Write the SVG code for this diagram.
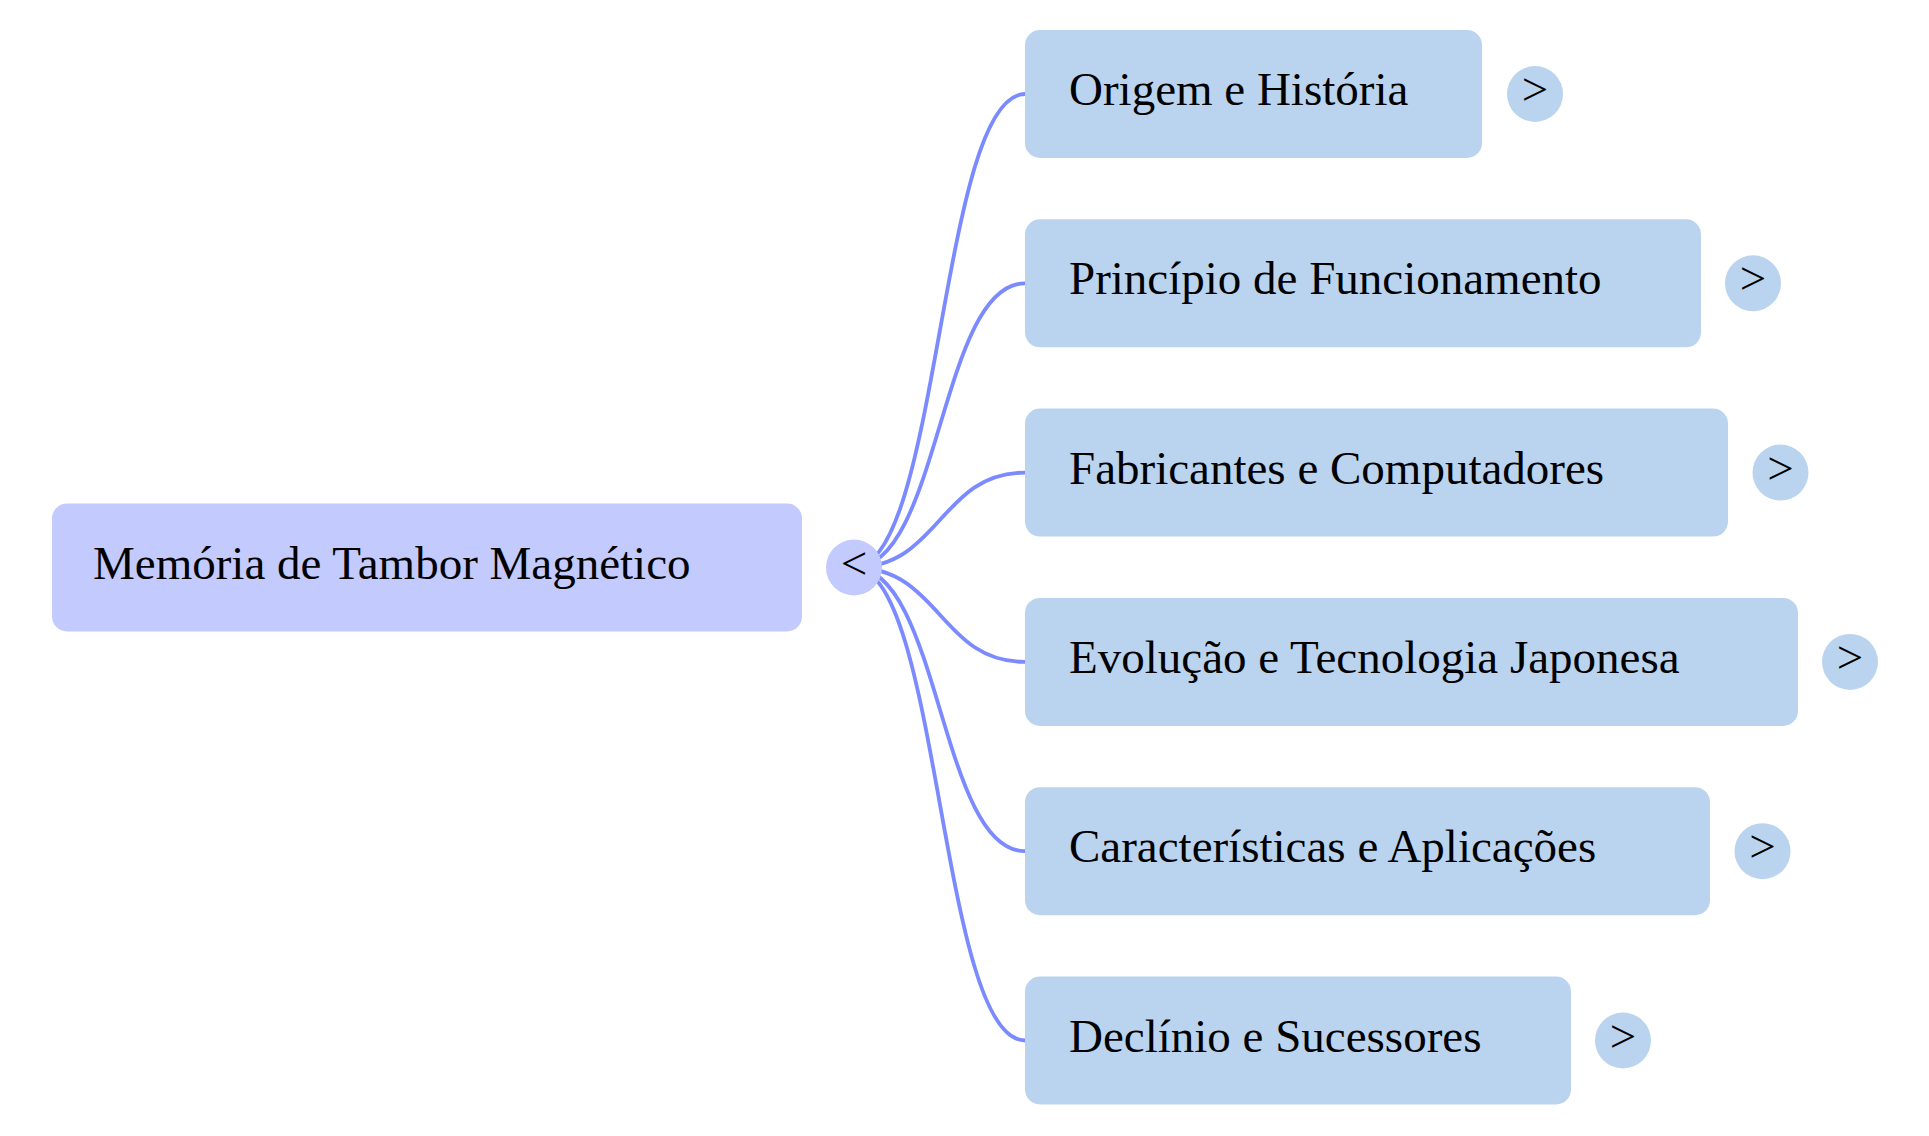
<svg xmlns="http://www.w3.org/2000/svg" width="1929" height="1136" viewBox="0 0 1929 1136">
<style>
.root{fill:#C3CAFE}
.child{fill:#BAD4EF}
.lbl{font-family:"Liberation Serif","Times New Roman",serif;font-size:47px;fill:#000}
.tog{font-family:"Liberation Serif","Times New Roman",serif;font-size:47px;fill:#000;text-anchor:middle}
.edge{fill:none;stroke:#7B8BFF;stroke-width:3.8}
</style>
<rect width="1929" height="1136" fill="#ffffff"/>
<g id="connectors">
<path class="edge" d="M854 567.5 C940 567.5 940 94 1025 94"/>
<path class="edge" d="M854 567.5 C940 567.5 940 283.3 1025 283.3"/>
<path class="edge" d="M854 567.5 C940 567.5 940 472.6 1025 472.6"/>
<path class="edge" d="M854 567.5 C940 567.5 940 661.9 1025 661.9"/>
<path class="edge" d="M854 567.5 C940 567.5 940 851.2 1025 851.2"/>
<path class="edge" d="M854 567.5 C940 567.5 940 1040.5 1025 1040.5"/>
</g>
<g id="root">
<rect class="root" x="52" y="503.5" width="750" height="128" rx="15"/>
<text class="lbl" x="93" y="579">Memória de Tambor Magnético</text>
<circle class="root" cx="854" cy="567.5" r="28"/>
<text class="tog" x="854" y="579">&lt;</text>
</g>
<g id="n1">
<rect class="child" x="1025" y="30" width="457" height="128" rx="15"/>
<text class="lbl" x="1069" y="105">Origem e História</text>
<circle class="child" cx="1535" cy="94" r="28"/>
<text class="tog" x="1535" y="105">&gt;</text>
</g>
<g id="n2">
<rect class="child" x="1025" y="219.3" width="676" height="128" rx="15"/>
<text class="lbl" x="1069" y="294.3">Princípio de Funcionamento</text>
<circle class="child" cx="1753" cy="283.3" r="28"/>
<text class="tog" x="1753" y="294.3">&gt;</text>
</g>
<g id="n3">
<rect class="child" x="1025" y="408.6" width="703" height="128" rx="15"/>
<text class="lbl" x="1069" y="483.6">Fabricantes e Computadores</text>
<circle class="child" cx="1780.5" cy="472.6" r="28"/>
<text class="tog" x="1780.5" y="483.6">&gt;</text>
</g>
<g id="n4">
<rect class="child" x="1025" y="597.9" width="773" height="128" rx="15"/>
<text class="lbl" x="1069" y="672.9">Evolução e Tecnologia Japonesa</text>
<circle class="child" cx="1850" cy="661.9" r="28"/>
<text class="tog" x="1850" y="672.9">&gt;</text>
</g>
<g id="n5">
<rect class="child" x="1025" y="787.2" width="685" height="128" rx="15"/>
<text class="lbl" x="1069" y="862.2">Características e Aplicações</text>
<circle class="child" cx="1762.5" cy="851.2" r="28"/>
<text class="tog" x="1762.5" y="862.2">&gt;</text>
</g>
<g id="n6">
<rect class="child" x="1025" y="976.5" width="546" height="128" rx="15"/>
<text class="lbl" x="1069" y="1051.5">Declínio e Sucessores</text>
<circle class="child" cx="1623" cy="1040.5" r="28"/>
<text class="tog" x="1623" y="1051.5">&gt;</text>
</g>
</svg>
